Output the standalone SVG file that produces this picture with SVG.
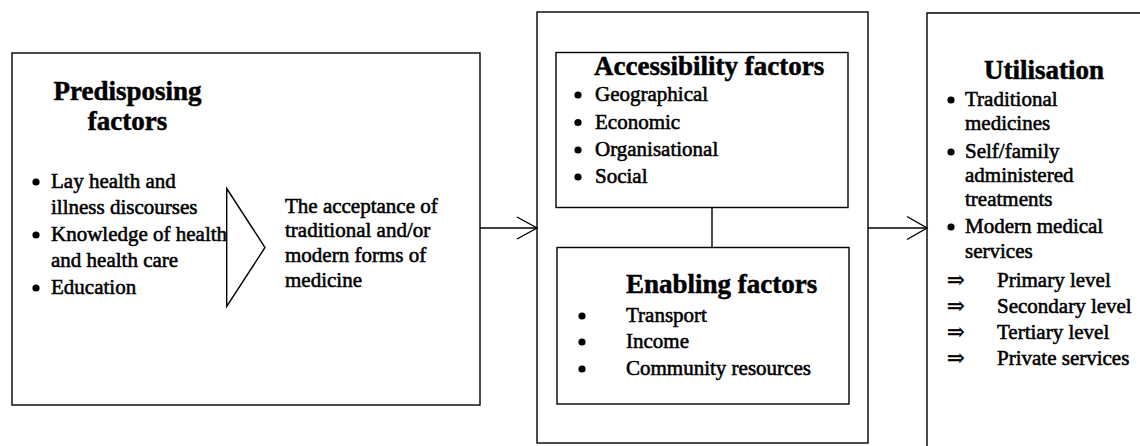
<svg xmlns="http://www.w3.org/2000/svg" width="1140" height="446" viewBox="0 0 1140 446">
  <style>
    .box { fill: #fff; stroke: #000; stroke-width: 1.4; }
    .edge { fill: none; stroke: #000; stroke-width: 1.4; }
    .head { font-family: "Liberation Serif", "Times New Roman", serif; font-weight: bold; font-size: 27px; fill: #000; stroke: #000; stroke-width: 0.5; }
    .txt { font-family: "Liberation Serif", "Times New Roman", "DejaVu Serif", serif; font-size: 21px; fill: #000; stroke: #000; stroke-width: 0.55; }
    .dot { fill: #000; }
  </style>
  <rect width="1140" height="446" fill="#fff"/>

  <!-- Predisposing factors -->
  <g id="predisposing">
    <rect class="box" x="12" y="53" width="468" height="352"/>
    <text class="head" x="127.5" y="100" text-anchor="middle">Predisposing</text>
    <text class="head" x="127.5" y="130" text-anchor="middle">factors</text>
    <circle class="dot" cx="36" cy="182" r="3.6"/>
    <circle class="dot" cx="36" cy="235" r="3.6"/>
    <circle class="dot" cx="36" cy="288" r="3.6"/>
    <text class="txt" x="51" y="188">Lay health and</text>
    <text class="txt" x="51" y="214">illness discourses</text>
    <text class="txt" x="51" y="241">Knowledge of health</text>
    <text class="txt" x="51" y="267">and health care</text>
    <text class="txt" x="51" y="294">Education</text>
    <polygon class="edge" points="226.7,188.5 265,247.5 226.7,306.5"/>
    <text class="txt" x="285" y="213">The acceptance of</text>
    <text class="txt" x="285" y="237">traditional and/or</text>
    <text class="txt" x="285" y="262">modern forms of</text>
    <text class="txt" x="285" y="287">medicine</text>
  </g>

  <!-- Outer container for accessibility and enabling factors -->
  <g id="access-enabling">
    <rect class="box" x="537" y="12" width="331" height="431"/>
  </g>

  <g id="accessibility">
    <rect class="box" x="556" y="52.5" width="292" height="155"/>
    <text class="head" x="594" y="75">Accessibility factors</text>
    <circle class="dot" cx="578" cy="95" r="3.6"/>
    <circle class="dot" cx="578" cy="122.5" r="3.6"/>
    <circle class="dot" cx="578" cy="150" r="3.6"/>
    <circle class="dot" cx="578" cy="177" r="3.6"/>
    <text class="txt" x="595" y="101">Geographical</text>
    <text class="txt" x="595" y="128.5">Economic</text>
    <text class="txt" x="595" y="156">Organisational</text>
    <text class="txt" x="595" y="183">Social</text>
  </g>

  <g id="enabling">
    <rect class="box" x="557" y="247.5" width="292" height="156.5"/>
    <text class="head" x="626" y="293">Enabling factors</text>
    <circle class="dot" cx="582" cy="316" r="3.6"/>
    <circle class="dot" cx="582" cy="342" r="3.6"/>
    <circle class="dot" cx="582" cy="369" r="3.6"/>
    <text class="txt" x="626" y="322">Transport</text>
    <text class="txt" x="626" y="348">Income</text>
    <text class="txt" x="626" y="375">Community resources</text>
  </g>

  <!-- Utilisation -->
  <g id="utilisation">
    <path class="edge" d="M1141,13 H927 V447"/>
    <text class="head" x="984" y="79">Utilisation</text>
    <circle class="dot" cx="951" cy="100" r="3.6"/>
    <circle class="dot" cx="951" cy="152" r="3.6"/>
    <circle class="dot" cx="951" cy="227" r="3.6"/>
    <text class="txt" x="965" y="106">Traditional</text>
    <text class="txt" x="965" y="130">medicines</text>
    <text class="txt" x="965" y="158">Self/family</text>
    <text class="txt" x="965" y="182">administered</text>
    <text class="txt" x="965" y="206">treatments</text>
    <text class="txt" x="965" y="233">Modern medical</text>
    <text class="txt" x="965" y="258">services</text>
    <text class="txt" x="947" y="287">⇒</text>
    <text class="txt" x="997" y="287">Primary level</text>
    <text class="txt" x="947" y="313">⇒</text>
    <text class="txt" x="997" y="313">Secondary level</text>
    <text class="txt" x="947" y="339">⇒</text>
    <text class="txt" x="997" y="339">Tertiary level</text>
    <text class="txt" x="947" y="365">⇒</text>
    <text class="txt" x="997" y="365">Private services</text>
  </g>

  <!-- Connectors -->
  <g id="connectors" class="edge">
    <line x1="480" y1="228" x2="537" y2="228"/>
    <polyline points="517,217 537,228 517,239"/>
    <line x1="712" y1="207.5" x2="712" y2="247.5"/>
    <line x1="868" y1="228" x2="927" y2="228"/>
    <polyline points="907,216.5 927,228 907,239.5"/>
  </g>
</svg>
